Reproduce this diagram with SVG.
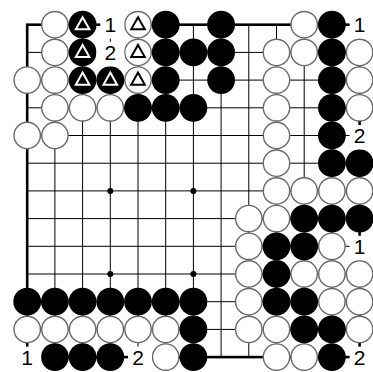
<svg xmlns="http://www.w3.org/2000/svg" xmlns:xlink="http://www.w3.org/1999/xlink" width="373" height="372" viewBox="0 0 373 372">
<style>
.grid{stroke:#000;stroke-width:1;fill:none}
.edge{stroke:#000;stroke-width:2.6;fill:none}
.w{fill:#fff;stroke:#6a6a6a;stroke-width:1.4}
.b{fill:#000}
.tw{fill:none;stroke:#fff;stroke-width:2}
.tb{fill:none;stroke:#000;stroke-width:2}
.lbg{fill:#fff}
.lab{font-family:"Liberation Sans",Arial,sans-serif;font-size:21px;fill:#000;text-anchor:middle}
</style>
<defs>
<circle id="W" class="w" r="13.2"/>
<circle id="B" class="b" r="13.9"/>
<path id="T" d="M0,-7.5 L6.8,4.6 L-6.8,4.6 Z"/>
<rect id="L" class="lbg" x="-10" y="-10.5" width="24" height="24.5"/>
<rect id="L2" class="lbg" x="-14" y="-10.5" width="28" height="24.5"/>
</defs>
<rect width="373" height="372" fill="#fff"/>
<g id="grid">
<path class="grid" d="M27.2 52.4H359.6M27.2 80.1H359.6M27.2 107.8H359.6M27.2 135.5H359.6M27.2 163.2H359.6M27.2 190.9H359.6M27.2 218.6H359.6M27.2 246.3H359.6M27.2 274H359.6M27.2 301.7H359.6M27.2 329.4H359.6M54.9 24.7V357.1M82.6 24.7V357.1M110.3 24.7V357.1M138 24.7V357.1M165.7 24.7V357.1M193.4 24.7V357.1M221.1 24.7V357.1M248.8 24.7V357.1M276.5 24.7V357.1M304.2 24.7V357.1M331.9 24.7V357.1"/>
<rect class="edge" x="27.2" y="24.7" width="332.4" height="332.4"/>
</g>
<g id="stars" class="b">
<circle cx="110.3" cy="190.9" r="3"/>
<circle cx="193.4" cy="190.9" r="3"/>
<circle cx="110.3" cy="274" r="3"/>
<circle cx="193.4" cy="274" r="3"/>
</g>
<g id="white-stones">
<use xlink:href="#W" x="54.9" y="24.7"/>
<use xlink:href="#W" x="304.2" y="24.7"/>
<use xlink:href="#W" x="54.9" y="52.4"/>
<use xlink:href="#W" x="276.5" y="52.4"/>
<use xlink:href="#W" x="304.2" y="52.4"/>
<use xlink:href="#W" x="359.6" y="52.4"/>
<use xlink:href="#W" x="27.2" y="80.1"/>
<use xlink:href="#W" x="54.9" y="80.1"/>
<use xlink:href="#W" x="276.5" y="80.1"/>
<use xlink:href="#W" x="359.6" y="80.1"/>
<use xlink:href="#W" x="54.9" y="107.8"/>
<use xlink:href="#W" x="82.6" y="107.8"/>
<use xlink:href="#W" x="110.3" y="107.8"/>
<use xlink:href="#W" x="276.5" y="107.8"/>
<use xlink:href="#W" x="359.6" y="107.8"/>
<use xlink:href="#W" x="27.2" y="135.5"/>
<use xlink:href="#W" x="54.9" y="135.5"/>
<use xlink:href="#W" x="276.5" y="135.5"/>
<use xlink:href="#W" x="276.5" y="163.2"/>
<use xlink:href="#W" x="276.5" y="190.9"/>
<use xlink:href="#W" x="304.2" y="190.9"/>
<use xlink:href="#W" x="331.9" y="190.9"/>
<use xlink:href="#W" x="359.6" y="190.9"/>
<use xlink:href="#W" x="248.8" y="218.6"/>
<use xlink:href="#W" x="276.5" y="218.6"/>
<use xlink:href="#W" x="248.8" y="246.3"/>
<use xlink:href="#W" x="331.9" y="246.3"/>
<use xlink:href="#W" x="248.8" y="274"/>
<use xlink:href="#W" x="304.2" y="274"/>
<use xlink:href="#W" x="331.9" y="274"/>
<use xlink:href="#W" x="359.6" y="274"/>
<use xlink:href="#W" x="248.8" y="301.7"/>
<use xlink:href="#W" x="331.9" y="301.7"/>
<use xlink:href="#W" x="359.6" y="301.7"/>
<use xlink:href="#W" x="27.2" y="329.4"/>
<use xlink:href="#W" x="54.9" y="329.4"/>
<use xlink:href="#W" x="82.6" y="329.4"/>
<use xlink:href="#W" x="110.3" y="329.4"/>
<use xlink:href="#W" x="138" y="329.4"/>
<use xlink:href="#W" x="165.7" y="329.4"/>
<use xlink:href="#W" x="248.8" y="329.4"/>
<use xlink:href="#W" x="276.5" y="329.4"/>
<use xlink:href="#W" x="359.6" y="329.4"/>
<use xlink:href="#W" x="165.7" y="357.1"/>
<use xlink:href="#W" x="276.5" y="357.1"/>
<use xlink:href="#W" x="304.2" y="357.1"/>
<use xlink:href="#W" x="138" y="24.7"/>
<use xlink:href="#W" x="138" y="52.4"/>
<use xlink:href="#W" x="138" y="80.1"/>
</g>
<g id="black-stones">
<use xlink:href="#B" x="165.7" y="24.7"/>
<use xlink:href="#B" x="221.1" y="24.7"/>
<use xlink:href="#B" x="331.9" y="24.7"/>
<use xlink:href="#B" x="165.7" y="52.4"/>
<use xlink:href="#B" x="193.4" y="52.4"/>
<use xlink:href="#B" x="221.1" y="52.4"/>
<use xlink:href="#B" x="331.9" y="52.4"/>
<use xlink:href="#B" x="165.7" y="80.1"/>
<use xlink:href="#B" x="221.1" y="80.1"/>
<use xlink:href="#B" x="331.9" y="80.1"/>
<use xlink:href="#B" x="138" y="107.8"/>
<use xlink:href="#B" x="165.7" y="107.8"/>
<use xlink:href="#B" x="193.4" y="107.8"/>
<use xlink:href="#B" x="331.9" y="107.8"/>
<use xlink:href="#B" x="331.9" y="135.5"/>
<use xlink:href="#B" x="331.9" y="163.2"/>
<use xlink:href="#B" x="359.6" y="163.2"/>
<use xlink:href="#B" x="304.2" y="218.6"/>
<use xlink:href="#B" x="331.9" y="218.6"/>
<use xlink:href="#B" x="359.6" y="218.6"/>
<use xlink:href="#B" x="276.5" y="246.3"/>
<use xlink:href="#B" x="304.2" y="246.3"/>
<use xlink:href="#B" x="276.5" y="274"/>
<use xlink:href="#B" x="27.2" y="301.7"/>
<use xlink:href="#B" x="54.9" y="301.7"/>
<use xlink:href="#B" x="82.6" y="301.7"/>
<use xlink:href="#B" x="110.3" y="301.7"/>
<use xlink:href="#B" x="138" y="301.7"/>
<use xlink:href="#B" x="165.7" y="301.7"/>
<use xlink:href="#B" x="193.4" y="301.7"/>
<use xlink:href="#B" x="276.5" y="301.7"/>
<use xlink:href="#B" x="304.2" y="301.7"/>
<use xlink:href="#B" x="193.4" y="329.4"/>
<use xlink:href="#B" x="304.2" y="329.4"/>
<use xlink:href="#B" x="331.9" y="329.4"/>
<use xlink:href="#B" x="54.9" y="357.1"/>
<use xlink:href="#B" x="82.6" y="357.1"/>
<use xlink:href="#B" x="110.3" y="357.1"/>
<use xlink:href="#B" x="193.4" y="357.1"/>
<use xlink:href="#B" x="331.9" y="357.1"/>
<use xlink:href="#B" x="82.6" y="24.7"/>
<use xlink:href="#B" x="82.6" y="52.4"/>
<use xlink:href="#B" x="82.6" y="80.1"/>
<use xlink:href="#B" x="110.3" y="80.1"/>
</g>
<g id="marks">
<use xlink:href="#T" class="tw" x="82.6" y="24.7"/>
<use xlink:href="#T" class="tw" x="82.6" y="52.4"/>
<use xlink:href="#T" class="tw" x="82.6" y="80.1"/>
<use xlink:href="#T" class="tw" x="110.3" y="80.1"/>
<use xlink:href="#T" class="tb" x="138" y="24.7"/>
<use xlink:href="#T" class="tb" x="138" y="52.4"/>
<use xlink:href="#T" class="tb" x="138" y="80.1"/>
</g>
<g id="labels">
<use xlink:href="#L" x="110.3" y="24.7"/>
<use xlink:href="#L2" x="110.3" y="52.4"/>
<use xlink:href="#L" x="359.6" y="24.7"/>
<use xlink:href="#L" x="359.6" y="135.5"/>
<use xlink:href="#L" x="359.6" y="246.3"/>
<use xlink:href="#L" x="359.6" y="357.1"/>
<use xlink:href="#L" x="27.2" y="357.1"/>
<use xlink:href="#L" x="138" y="357.1"/>
<text class="lab" x="110.3" y="32.2">1</text>
<text class="lab" x="110.3" y="59.9">2</text>
<text class="lab" x="359.6" y="32.2">1</text>
<text class="lab" x="359.6" y="143">2</text>
<text class="lab" x="359.6" y="253.8">1</text>
<text class="lab" x="359.6" y="364.6">2</text>
<text class="lab" x="27.2" y="364.6">1</text>
<text class="lab" x="138" y="364.6">2</text>
</g>
</svg>
